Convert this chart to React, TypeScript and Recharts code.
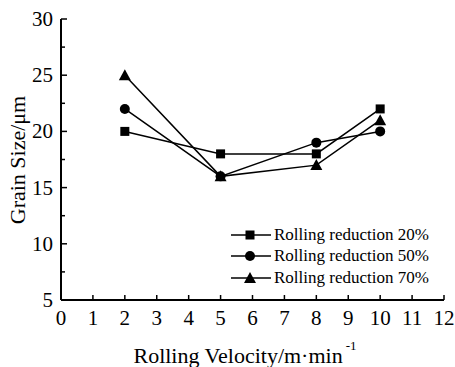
import { LineChart, Line, XAxis, YAxis, Legend } from "recharts";

const velocity = [2, 5, 8, 10];
const reduction20 = [20, 18, 18, 22];
const reduction50 = [22, 16, 19, 20];
const reduction70 = [25, 16, 17, 21];
const seriesNames = [
  "Rolling reduction 20%",
  "Rolling reduction 50%",
  "Rolling reduction 70%",
];
const xTicks = [0, 1, 2, 3, 4, 5, 6, 7, 8, 9, 10, 11, 12];
const yTicks = [5, 7.5, 10, 12.5, 15, 17.5, 20, 22.5, 25, 27.5, 30];

const data = velocity.map((v, i) => ({
  v,
  r20: reduction20[i],
  r50: reduction50[i],
  r70: reduction70[i],
}));

const FONT = "'Liberation Serif', 'DejaVu Serif', serif";

// marker shapes
const Marker = ({ kind, cx, cy }: { kind: string; cx: number; cy: number }) => {
  if (kind === "square")
    return <rect x={cx - 4.5} y={cy - 4.5} width={9} height={9} fill="#000" />;
  if (kind === "circle") return <circle cx={cx} cy={cy} r={5} fill="#000" />;
  return (
    <polygon
      points={`${cx},${cy - 6} ${cx - 6},${cy + 5} ${cx + 6},${cy + 5}`}
      fill="#000"
    />
  );
};

const kinds = ["square", "circle", "triangle"];

const dotFor = (kind: string) => (p: any) =>
  <Marker key={`${kind}-${p.index}`} kind={kind} cx={p.cx} cy={p.cy} />;

const BottomTick = ({ x, y, payload }: any) => (
  <g>
    <line x1={x} y1={y} x2={x} y2={y - 5} stroke="#000" strokeWidth={1.5} />
    <text
      x={x}
      y={y + 25}
      textAnchor="middle"
      fontSize={21}
      fontFamily={FONT}
      fill="#000"
    >
      {payload.value}
    </text>
  </g>
);

const TopTick = ({ x, y }: any) => (
  <line x1={x} y1={y} x2={x} y2={y + 3} stroke="#000" strokeWidth={1.2} />
);

const LeftTick = ({ x, y, payload }: any) => {
  const major = payload.value % 5 === 0;
  return (
    <g>
      <line
        x1={x}
        y1={y}
        x2={x + (major ? 6 : 4)}
        y2={y}
        stroke="#000"
        strokeWidth={1.5}
      />
      {major && (
        <text
          x={x - 8}
          y={y + 7}
          textAnchor="end"
          fontSize={21}
          fontFamily={FONT}
          fill="#000"
        >
          {payload.value}
        </text>
      )}
    </g>
  );
};

const RightTick = ({ x, y }: any) => (
  <line x1={x} y1={y} x2={x - 3} y2={y} stroke="#000" strokeWidth={1.2} />
);

const XTitle = () => (
  <text
    x={245}
    y={363}
    textAnchor="middle"
    fontSize={22}
    fontFamily={FONT}
    fill="#000"
  >
    Rolling Velocity/m·min
    <tspan dx={3} dy={-13} fontSize={13}>
      -1
    </tspan>
  </text>
);

const YTitle = () => (
  <text
    x={25}
    y={160}
    transform="rotate(-90 25 160)"
    textAnchor="middle"
    fontSize={22}
    fontFamily={FONT}
    fill="#000"
  >
    Grain Size/μm
  </text>
);

const renderLegend = () => (
  <div style={{ fontFamily: FONT, fontSize: 17, color: "#000" }}>
    {seriesNames.map((name, i) => (
      <div
        key={name}
        style={{ display: "flex", alignItems: "center", height: 21.5 }}
      >
        <svg width={44} height={16} style={{ marginRight: 1 }}>
          <line x1={2} y1={8} x2={42} y2={8} stroke="#000" strokeWidth={1.5} />
          <Marker kind={kinds[i]} cx={21} cy={8} />
        </svg>
        <span style={{ whiteSpace: "nowrap" }}>{name}</span>
      </div>
    ))}
  </div>
);

export default function App() {
  return (
    <div
      style={{
        position: "absolute",
        left: 0,
        top: 0,
        background: "#fff",
        fontFamily: FONT,
      }}
    >
      <LineChart
        width={455}
        height={367}
        data={data}
        margin={{ top: 19, right: 11, left: 0, bottom: 0 }}
      >
        <XAxis
          dataKey="v"
          type="number"
          domain={[0, 12]}
          ticks={xTicks}
          interval={0}
          height={67}
          tickSize={0}
          tickMargin={0}
          tickLine={false}
          tick={BottomTick}
          stroke="#000"
          axisLine={{ stroke: "#000", strokeWidth: 2 }}
          label={{ content: XTitle }}
        />
        <XAxis
          xAxisId="top"
          dataKey="v"
          type="number"
          orientation="top"
          domain={[0, 12]}
          ticks={xTicks}
          interval={0}
          height={0}
          tickSize={0}
          tickMargin={0}
          tickLine={false}
          tick={TopTick}
          stroke="#000"
          axisLine={{ stroke: "#000", strokeWidth: 2 }}
        />
        <YAxis
          type="number"
          domain={[5, 30]}
          ticks={yTicks}
          interval={0}
          width={61}
          tickSize={0}
          tickMargin={0}
          tickLine={false}
          tick={LeftTick}
          stroke="#000"
          axisLine={{ stroke: "#000", strokeWidth: 2 }}
          label={{ content: YTitle }}
        />
        <YAxis
          yAxisId="right"
          type="number"
          orientation="right"
          domain={[5, 30]}
          ticks={yTicks}
          interval={0}
          width={0}
          tickSize={0}
          tickMargin={0}
          tickLine={false}
          tick={RightTick}
          stroke="#000"
          axisLine={{ stroke: "#000", strokeWidth: 2 }}
        />
        <Legend
          layout="vertical"
          align="center"
          verticalAlign="middle"
          content={renderLegend}
          wrapperStyle={{ left: 229, top: 224, width: 224, height: 66 }}
        />
        <Line
          dataKey="r20"
          name={seriesNames[0]}
          stroke="#000"
          strokeWidth={1.5}
          dot={dotFor("square")}
          activeDot={false}
          isAnimationActive={false}
        />
        <Line
          dataKey="r50"
          name={seriesNames[1]}
          stroke="#000"
          strokeWidth={1.5}
          dot={dotFor("circle")}
          activeDot={false}
          isAnimationActive={false}
        />
        <Line
          dataKey="r70"
          name={seriesNames[2]}
          stroke="#000"
          strokeWidth={1.5}
          dot={dotFor("triangle")}
          activeDot={false}
          isAnimationActive={false}
        />
      </LineChart>
    </div>
  );
}
